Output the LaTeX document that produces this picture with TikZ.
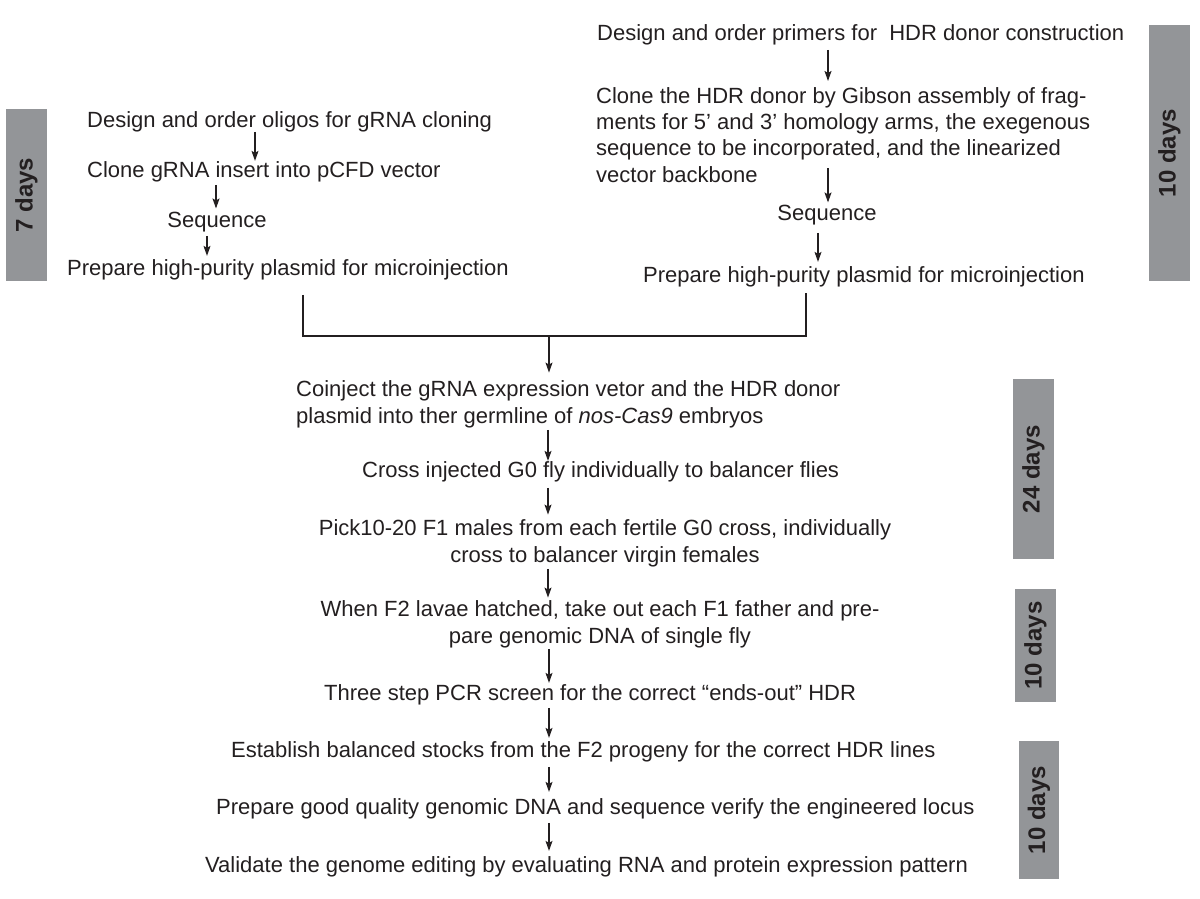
\documentclass[tikz,border=0pt]{standalone}
\usepackage{fontspec}
\setmainfont{Liberation Sans}
\usetikzlibrary{arrows.meta}
\definecolor{ink}{HTML}{231F20}
\definecolor{barfill}{HTML}{939598}
\begin{document}
\begin{tikzpicture}[x=1pt,y=-1pt,
  txt/.style={inner sep=0pt, text=ink, font=\fontsize{22}{26.3}\selectfont},
  arr/.style={draw=ink, line width=1.1pt, -{Stealth[length=10pt,width=7pt,inset=2pt]}},
  ln/.style={draw=ink, line width=1.1pt},
  daybar/.style={fill=barfill, rotate=90, inner sep=0pt, text=ink,
    font=\fontsize{24}{28}\selectfont\bfseries}]
\useasboundingbox (0,0) rectangle (1200,898);

% day bars
\node[daybar, minimum width=172pt, minimum height=41pt] (b1) at (26.5,195) {7 days};
\node[daybar, minimum width=256pt, minimum height=41pt] (b2) at (1169.5,153) {10 days};
\node[daybar, minimum width=180pt, minimum height=41pt] (b3) at (1033.5,469) {24 days};
\node[daybar, minimum width=113pt, minimum height=41pt] (b4) at (1035.5,645.5) {10 days};
\node[daybar, minimum width=138pt, minimum height=40pt] (b5) at (1039,810) {10 days};

% left column
\node[txt, anchor=base west] (L1) at (87,127) {Design and order oligos for gRNA cloning};
\node[txt, anchor=base west] (L2) at (87,177) {Clone gRNA insert into pCFD vector};
\node[txt, anchor=base] (L3) at (217,227) {Sequence};
\node[txt, anchor=base west] (L4) at (67,275) {Prepare high-purity plasmid for microinjection};

% right column
\node[txt, anchor=base west] (R1) at (597,40) {Design and order primers for \ HDR donor construction};
\node[txt, anchor=base west, align=left] (R2) at (596,182) {Clone the HDR donor by Gibson assembly of frag-\\ments for 5’ and 3’ homology arms, the exegenous\\sequence to be incorporated, and the linearized\\vector backbone};
\node[txt, anchor=base] (R3) at (827,220) {Sequence};
\node[txt, anchor=base west] (R4) at (643,282) {Prepare high-purity plasmid for microinjection};

% middle
\node[txt, anchor=base west, align=left] (M1) at (296,423) {Coinject the gRNA expression vetor and the HDR donor\\plasmid into ther germline of \textit{nos-Cas9} embryos};
\node[txt, anchor=base west] (M2) at (362,477) {Cross injected G0 fly individually to balancer flies};
\node[txt, anchor=base, align=center] (M3) at (605,562) {Pick10-20 F1 males from each fertile G0 cross, individually\\cross to balancer virgin females};
\node[txt, anchor=base, align=center] (M4) at (600,643) {When F2 lavae hatched, take out each F1 father and pre-\\pare genomic DNA of single fly};
\node[txt, anchor=base west] (M5) at (324,700) {Three step PCR screen for the correct “ends-out” HDR};
\node[txt, anchor=base west] (M6) at (231,757) {Establish balanced stocks from the F2 progeny for the correct HDR lines};
\node[txt, anchor=base west] (M7) at (216,814) {Prepare good quality genomic DNA and sequence verify the engineered locus};
\node[txt, anchor=base west] (M8) at (205,872) {Validate the genome editing by evaluating RNA and protein expression pattern};

% left column arrows
\draw[arr] (255,0 |- L1.south) -- (255,0 |- L2.north);
\draw[arr, shorten <=3pt, shorten >=3pt] (216,0 |- L2.south) -- (216,0 |- L3.north);
\draw[arr, shorten <=4pt, shorten >=3pt] (207,0 |- L3.south) -- (207,0 |- L4.north);

% right column arrows
\coordinate (r2out) at (828,168);
\draw[arr, shorten <=5pt, shorten >=6pt] (828,0 |- R1.south) -- (828,0 |- R2.north);
\draw[arr, shorten >=2pt] (r2out) -- (r2out |- R3.north);
\draw[arr, shorten <=8pt, shorten >=4pt] (818,0 |- R3.south) -- (818,0 |- R4.north);

% join
\coordinate (J) at (549,336);
\draw[ln, shorten <=15pt, shorten >=6pt] (L4.south -| 303,0) |- (J) -| (R4.south -| 806,0);
\draw[arr, shorten >=8pt] (J) -- (J |- M1.north);

% middle arrows
\draw[arr, shorten <=2pt] (548,0 |- M1.south) -- (548,0 |- M2.north);
\draw[arr, shorten <=6pt, shorten >=5pt] (548,0 |- M2.south) -- (548,0 |- M3.north);
\draw[arr, shorten <=2pt, shorten >=3pt] (548,0 |- M3.south) -- (548,0 |- M4.north);
\draw[arr, shorten <=1pt, shorten >=1pt] (549,0 |- M4.south) -- (549,0 |- M5.north);
\draw[arr, shorten <=3pt, shorten >=3pt] (549,0 |- M5.south) -- (549,0 |- M6.north);
\draw[arr, shorten <=5pt, shorten >=6pt] (549,0 |- M6.south) -- (549,0 |- M7.north);
\draw[arr, shorten <=4pt, shorten >=5pt] (549,0 |- M7.south) -- (549,0 |- M8.north);
\end{tikzpicture}
\end{document}
